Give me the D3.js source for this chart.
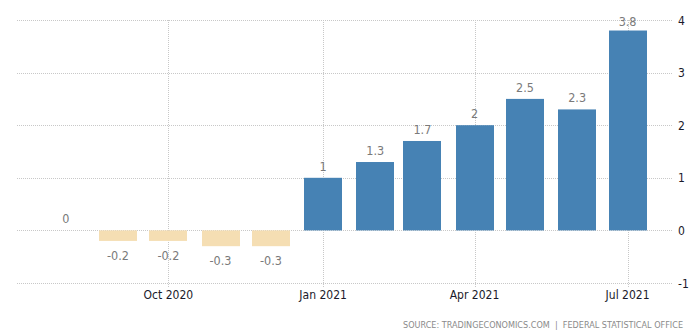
<!DOCTYPE html>
<html>
<head>
<meta charset="utf-8">
<script src="https://cdn.jsdelivr.net/npm/d3@7"></script>
<style>
  html, body { margin: 0; padding: 0; background: #fff; }
  svg { display: block; }
</style>
</head>
<body>
<svg id="chart" width="690" height="335"></svg>
<script>
const months = ["2020-08-01","2020-09-01","2020-10-01","2020-11-01","2020-12-01","2021-01-01","2021-02-01","2021-03-01","2021-04-01","2021-05-01","2021-06-01","2021-07-01"];
const values = [0, -0.2, -0.2, -0.3, -0.3, 1, 1.3, 1.7, 2, 2.5, 2.3, 3.8];
const valueLabels = ["0","-0.2","-0.2","-0.3","-0.3","1","1.3","1.7","2","2.5","2.3","3.8"];
const xTicks = ["2020-10-01","2021-01-01","2021-04-01","2021-07-01"];
const xTickLabels = ["Oct 2020","Jan 2021","Apr 2021","Jul 2021"];
const yTicks = [-1, 0, 1, 2, 3, 4];
const sourceText = "SOURCE: TRADINGECONOMICS.COM  |  FEDERAL STATISTICAL OFFICE";

const parse = d3.utcParse("%Y-%m-%d");
const svg = d3.select("#chart");
const fontTick = "'DejaVu Sans Condensed', 'DejaVu Sans', sans-serif";

const x = d3.scaleUtc()
  .domain([parse("2020-07-03"), parse("2021-07-28")])
  .range([17, 673]);
const y = d3.scaleLinear().domain([-1, 4]).range([283, 20]);
const barW = 38;

// horizontal grid
svg.append("g").selectAll("line").data(yTicks).join("line")
  .attr("x1", 17).attr("x2", 673)
  .attr("y1", d => Math.round(y(d)) + 0.5).attr("y2", d => Math.round(y(d)) + 0.5)
  .attr("stroke", "#c8c8c8").attr("stroke-width", 1).attr("stroke-dasharray", "1,1");

// vertical grid
svg.append("g").selectAll("line").data(xTicks).join("line")
  .attr("x1", d => Math.round(x(parse(d))) + 0.5).attr("x2", d => Math.round(x(parse(d))) + 0.5)
  .attr("y1", 20).attr("y2", 288)
  .attr("stroke", "#c8c8c8").attr("stroke-width", 1).attr("stroke-dasharray", "1,1");

// bars
svg.append("g").selectAll("rect").data(values).join("rect")
  .attr("x", (d, i) => Math.round(x(parse(months[i])) - barW / 2))
  .attr("width", barW)
  .attr("y", d => y(Math.max(0, d)))
  .attr("height", d => Math.abs(y(d) - y(0)))
  .attr("fill", d => d < 0 ? "#f5deb3" : "#4682b4");

// value labels
svg.append("g").selectAll("text").data(values).join("text")
  .attr("x", (d, i) => x(parse(months[i])))
  .attr("y", d => d < 0 ? y(d) + 19 : Math.max(y(d) - 7, 26))
  .attr("text-anchor", "middle")
  .attr("font-family", fontTick)
  .attr("font-size", 12.5)
  .attr("fill", "#7a7a7a")
  .text((d, i) => valueLabels[i]);

// x tick labels
svg.append("g").selectAll("text").data(xTicks).join("text")
  .attr("x", d => x(parse(d)))
  .attr("y", 299)
  .attr("text-anchor", "middle")
  .attr("font-family", fontTick)
  .attr("font-size", 12)
  .attr("fill", "#1a1a2a")
  .text((d, i) => xTickLabels[i]);

// y tick labels (right)
svg.append("g").selectAll("text").data(yTicks).join("text")
  .attr("x", 678)
  .attr("y", d => y(d) + 4.5)
  .attr("text-anchor", "start")
  .attr("font-family", fontTick)
  .attr("font-size", 12)
  .attr("fill", "#1a1a2a")
  .text(d => d);

// source
svg.append("text")
  .attr("x", 403).attr("y", 328)
  .attr("text-anchor", "start")
  .attr("font-family", fontTick)
  .attr("font-size", 9)
  .attr("textLength", 280)
  .attr("lengthAdjust", "spacing")
  .attr("fill", "#8a8a8a")
  .style("white-space", "pre")
  .text(sourceText);
</script>
</body>
</html>
